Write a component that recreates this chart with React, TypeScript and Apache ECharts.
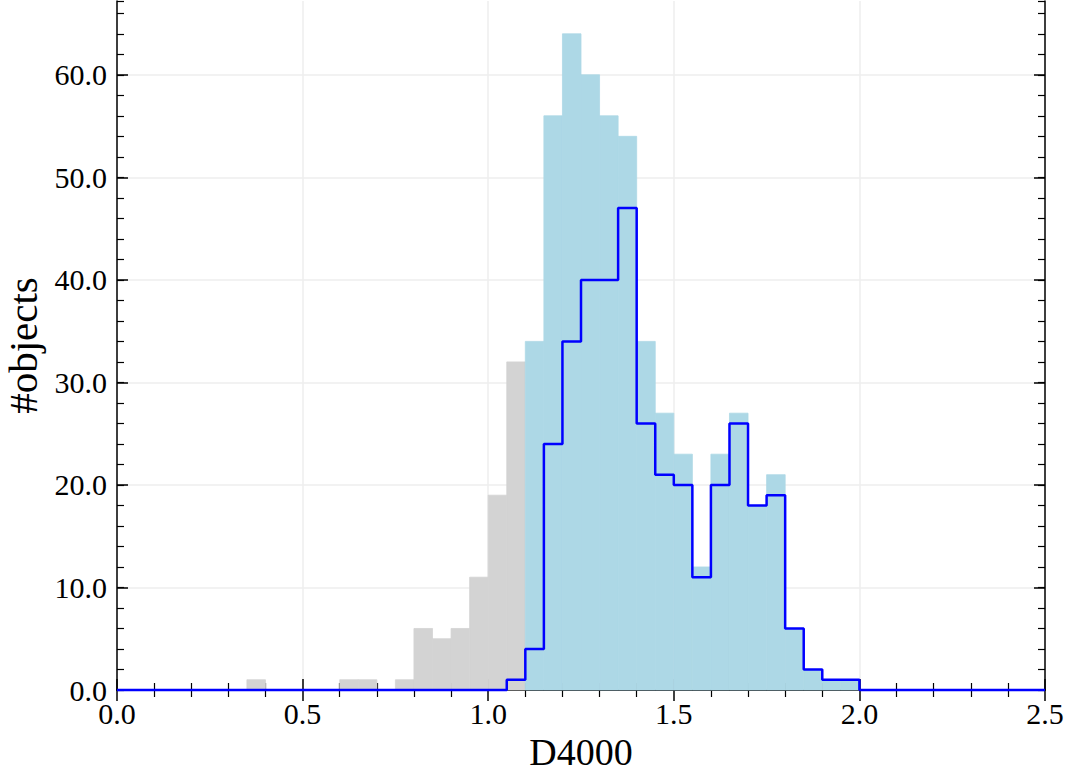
import React, { useEffect, useRef } from "react";
import * as echarts from "echarts";

const BIN_WIDTH = 0.05;
const X_MIN = 0;
const X_MAX = 2.5;
const Y_MAX = 67.2;

// counts for bins starting at 0.00 (gray, D4000 < 1.1)
const grayCounts = [0, 0, 0, 0, 0, 0, 0, 1, 0, 0, 0, 0, 1, 1, 0, 1, 6, 5, 6, 11, 19, 32];
// counts for bins starting at 1.10 (light blue)
const lightBlueStart = 22;
const lightBlueCounts = [34, 56, 64, 60, 56, 54, 34, 27, 23, 12, 23, 27, 18, 21, 6, 2, 1, 1];
// counts for all 50 bins (blue step outline)
const stepCounts = [
  0, 0, 0, 0, 0, 0, 0, 0, 0, 0,
  0, 0, 0, 0, 0, 0, 0, 0, 0, 0,
  0, 1, 4, 24, 34, 40, 40, 47, 26, 21,
  20, 11, 20, 26, 18, 19, 6, 2, 1, 1,
  0, 0, 0, 0, 0, 0, 0, 0, 0, 0,
];
const yMajorTicks = [0, 10, 20, 30, 40, 50, 60];

const FONT = "Liberation Serif";

function barSeries(data: number[][], color: string) {
  return {
    type: "custom",
    xAxisIndex: 0,
    yAxisIndex: 0,
    data,
    renderItem: (params: any, api: any) => {
      const x0 = api.value(0);
      const v = api.value(1);
      const p0 = api.coord([x0, v]);
      const p1 = api.coord([x0 + BIN_WIDTH, 0]);
      return {
        type: "rect",
        shape: { x: p0[0], y: p0[1], width: p1[0] - p0[0], height: p1[1] - p0[1] },
        style: { fill: color, stroke: color, lineWidth: 0.8 },
      };
    },
    z: 2,
  };
}

export default function App() {
  const ref = useRef<HTMLDivElement>(null);
  useEffect(() => {
    if (!ref.current) return;
    const chart = echarts.init(ref.current, undefined, { renderer: "svg" });
    const grayData = grayCounts.map((c, i) => [i * BIN_WIDTH, c]).filter((d) => d[1] > 0);
    const lbData = lightBlueCounts
      .map((c, i) => [(lightBlueStart + i) * BIN_WIDTH, c])
      .filter((d) => d[1] > 0);
    const stepData = stepCounts.map((c, i) => [i * BIN_WIDTH, c]);
    stepData.push([X_MAX, 0]);

    const axisLine = { show: true, lineStyle: { color: "#000", width: 1.5 } };
    const majorTick = { show: true, inside: true, length: 11, lineStyle: { color: "#000", width: 1.5 } };
    const minorTickLen = 7;

    const yBase = { type: "value", min: 0, max: Y_MAX };

    chart.setOption({
      animation: false,
      grid: { left: 117, right: 25, top: 1, bottom: 83, containLabel: false, outerBoundsMode: "none" },
      xAxis: [
        {
          type: "value",
          position: "bottom",
          min: X_MIN,
          max: X_MAX,
          interval: 0.5,
          axisLine,
          axisTick: majorTick,
          minorTick: { show: true, splitNumber: 5, length: minorTickLen, lineStyle: { color: "#000", width: 1.2 } },
          splitLine: { show: true, lineStyle: { color: "#eeeeee", width: 1.5 } },
          axisLabel: {
            show: true,
            fontFamily: FONT,
            fontSize: 30,
            color: "#000",
            margin: 8,
            formatter: (v: number) => v.toFixed(1),
          },
          name: "D4000",
          nameLocation: "middle",
          nameGap: 42,
          nameTextStyle: { fontFamily: FONT, fontSize: 38, color: "#000" },
        },
        {
          type: "value",
          position: "top",
          min: X_MIN,
          max: X_MAX,
          interval: 0.5,
          axisLine,
          axisTick: majorTick,
          minorTick: { show: true, splitNumber: 5, length: minorTickLen, lineStyle: { color: "#000", width: 1.2 } },
          splitLine: { show: false },
          axisLabel: { show: false },
        },
      ],
      yAxis: [
        {
          ...yBase,
          position: "left",
          interval: 10,
          axisLine,
          axisTick: { ...majorTick, customValues: yMajorTicks },
          splitLine: { show: true, lineStyle: { color: "#eeeeee", width: 1.5 } },
          axisLabel: {
            show: true,
            fontFamily: FONT,
            fontSize: 30,
            color: "#000",
            margin: 10,
            customValues: yMajorTicks,
            formatter: (v: number) => v.toFixed(1),
          },
          name: "#objects",
          nameLocation: "middle",
          nameGap: 70,
          nameTextStyle: { fontFamily: FONT, fontSize: 41, color: "#000" },
        },
        {
          ...yBase,
          position: "left",
          interval: 2,
          axisLine: { show: false },
          axisTick: { show: true, inside: true, length: minorTickLen, lineStyle: { color: "#000", width: 1.2 } },
          splitLine: { show: false },
          axisLabel: { show: false },
        },
        {
          ...yBase,
          position: "right",
          interval: 10,
          axisLine,
          axisTick: { ...majorTick, customValues: yMajorTicks },
          splitLine: { show: false },
          axisLabel: { show: false },
        },
        {
          ...yBase,
          position: "right",
          interval: 2,
          axisLine: { show: false },
          axisTick: { show: true, inside: true, length: minorTickLen, lineStyle: { color: "#000", width: 1.2 } },
          splitLine: { show: false },
          axisLabel: { show: false },
        },
      ],
      series: [
        barSeries(grayData, "#d3d3d3"),
        barSeries(lbData, "#add8e6"),
        {
          type: "line",
          xAxisIndex: 0,
          yAxisIndex: 0,
          step: "end",
          data: stepData,
          showSymbol: false,
          symbol: "none",
          lineStyle: { color: "#0000ff", width: 2.5 },
          clip: false,
          z: 3,
        },
      ],
    });
    return () => chart.dispose();
  }, []);
  return (
    <div
      ref={ref}
      style={{ position: "fixed", left: 0, top: 0, width: 1070, height: 773, background: "#fff" }}
    />
  );
}
